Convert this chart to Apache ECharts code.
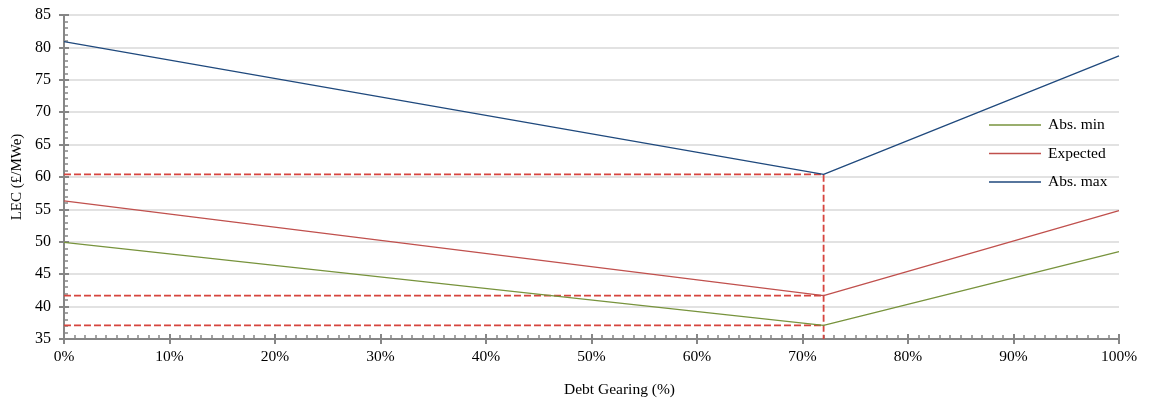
<!DOCTYPE html>
<html><head><meta charset="utf-8">
<script src="https://cdn.jsdelivr.net/npm/echarts@6/dist/echarts.min.js"></script>
<style>html,body{margin:0;padding:0;background:#fff}#c{width:1152px;height:403px}</style>
</head><body><div id="c"></div>
<script>
const gearing = [0, 72, 100];
const absMin = [49.9, 37.1, 48.5];
const expected = [56.3, 41.7, 54.8];
const absMax = [80.9, 60.4, 78.7];
const optimumIndex = 1;
const seriesNames = ['Abs. min', 'Expected', 'Abs. max'];
const colors = ['#77933C', '#C0504D', '#1F497D'];

const yMin = 35, yMax = 85;
const font = '"Liberation Serif", "Times New Roman", serif';
const pairs = arr => gearing.map((g, i) => [g, arr[i]]);
const ox = gearing[optimumIndex];
const dashData = [
  [0, absMax[optimumIndex]], [ox, absMax[optimumIndex]], [ox, yMin], null,
  [0, expected[optimumIndex]], [ox, expected[optimumIndex]], null,
  [0, absMin[optimumIndex]], [ox, absMin[optimumIndex]]
].map(p => p === null ? [null, null] : p);

const baseX = {type: 'value', min: 0, max: 100, interval: 10, gridIndex: 0};
const baseY = {type: 'value', min: yMin, max: yMax, interval: 5, gridIndex: 0};
const chart = echarts.init(document.getElementById('c'), null, {renderer: 'canvas'});
chart.setOption({
  animation: false,
  textStyle: {fontFamily: font},
  grid: {left: 64, right: 33, top: 15, bottom: 63, containLabel: false},
  legend: {
    orient: 'vertical', left: 984, top: 112, itemGap: 12.5, itemWidth: 52, itemHeight: 1.5,
    icon: 'rect',
    data: seriesNames,
    textStyle: {fontFamily: font, fontSize: 15.5, color: '#000', padding: [0, 0, 0, 2]}
  },
  xAxis: [
    Object.assign({}, baseX, {
      name: 'Debt Gearing (%)', nameLocation: 'middle', nameGap: 43,
      nameTextStyle: {fontFamily: font, fontSize: 15.5, color: '#000', padding: [0, 0, 0, 56]},
      axisLine: {show: true, lineStyle: {color: '#868686', width: 2}},
      axisTick: {show: true, inside: false, length: 5, lineStyle: {color: '#868686', width: 2}},
      axisLabel: {formatter: '{value}%', fontFamily: font, fontSize: 15.5, color: '#000', margin: 10},
      splitLine: {show: false}
    }),
    Object.assign({}, baseX, {
      position: 'bottom',
      axisLine: {show: false},
      axisTick: {show: true, inside: true, length: 5, lineStyle: {color: '#868686', width: 2}},
      minorTick: {show: true, splitNumber: 10, length: 4, lineStyle: {color: '#868686', width: 1.5}},
      axisLabel: {show: false}, splitLine: {show: false}
    })
  ],
  yAxis: [
    Object.assign({}, baseY, {
      name: 'LEC (£/MWe)', nameLocation: 'middle', nameGap: 37, nameRotate: 90,
      nameTextStyle: {fontFamily: font, fontSize: 15, color: '#000'},
      axisLine: {show: true, lineStyle: {color: '#868686', width: 2}},
      axisTick: {show: true, inside: false, length: 5, lineStyle: {color: '#868686', width: 2}},
      axisLabel: {fontFamily: font, fontSize: 16, color: '#000', margin: 13},
      splitLine: {show: true, lineStyle: {color: '#D9D9D9', width: 1.5}}
    }),
    Object.assign({}, baseY, {
      position: 'left',
      axisLine: {show: false},
      axisTick: {show: true, inside: true, length: 5, lineStyle: {color: '#868686', width: 2}},
      minorTick: {show: true, splitNumber: 5, length: 4, lineStyle: {color: '#868686', width: 1.5}},
      axisLabel: {show: false}, splitLine: {show: false}
    })
  ],
  series: [
    {name: 'Optimum', type: 'line', data: dashData, symbol: 'none', connectNulls: false,
     lineStyle: {color: '#D6453F', width: 1.8, type: [7, 3]}, z: 3, silent: true},
    {name: seriesNames[0], type: 'line', data: pairs(absMin), symbol: 'none', color: colors[0], lineStyle: {width: 1.3}, z: 4},
    {name: seriesNames[1], type: 'line', data: pairs(expected), symbol: 'none', color: colors[1], lineStyle: {width: 1.3}, z: 4},
    {name: seriesNames[2], type: 'line', data: pairs(absMax), symbol: 'none', color: colors[2], lineStyle: {width: 1.3}, z: 4}
  ]
});
</script></body></html>
